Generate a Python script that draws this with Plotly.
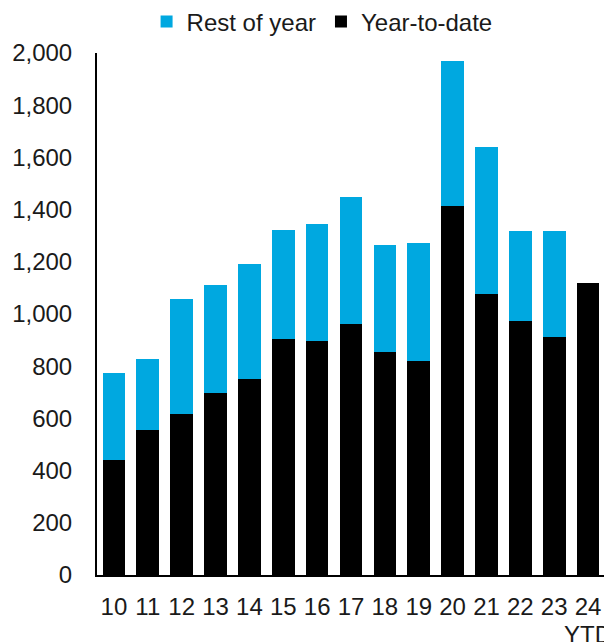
import plotly.graph_objects as go

years = ["10", "11", "12", "13", "14", "15", "16", "17", "18", "19", "20", "21", "22", "23", "24"]
tick_labels = ["10", "11", "12", "13", "14", "15", "16", "17", "18", "19", "20", "21", "22", "23", "24"]
ytd_note = "YTD"
year_to_date = [442, 555, 618, 698, 752, 905, 898, 963, 853, 821, 1415, 1075, 974, 913, 1120]
rest_of_year = [333, 271, 438, 414, 438, 417, 447, 484, 413, 450, 553, 564, 343, 405, 0]
y_ticks = [0, 200, 400, 600, 800, 1000, 1200, 1400, 1600, 1800, 2000]

fig = go.Figure()
fig.add_trace(go.Bar(x=years, y=year_to_date, name="Year-to-date",
                     marker=dict(color="#000000", line=dict(width=0))))
fig.add_trace(go.Bar(x=years, y=rest_of_year, name="Rest of year",
                     marker=dict(color="#00A8E0", line=dict(width=0))))

fig.add_annotation(x=len(years) - 1, xref="x", y=-0.114, yref="paper",
                   text=ytd_note, showarrow=False, xanchor="center", yanchor="middle",
                   font=dict(size=24, color="#1a1a1a"))

fig.update_layout(
    width=604, height=634,
    barmode="stack", bargap=0.33,
    plot_bgcolor="white", paper_bgcolor="white",
    margin=dict(l=89, r=7, t=45, b=67, autoexpand=False),
    font=dict(family="Liberation Sans, Arial, sans-serif", size=24, color="#1a1a1a"),
    showlegend=True,
    legend=dict(orientation="h", traceorder="reversed",
                x=0.52, xanchor="center", xref="container",
                y=0.978, yanchor="middle", yref="container",
                font=dict(size=24), itemwidth=30, bgcolor="rgba(0,0,0,0)"),
    xaxis=dict(type="category", range=[-0.5, len(years) - 0.5],
               tickmode="array", tickvals=years, ticktext=tick_labels,
               showline=True, linecolor="#000000", linewidth=2, showgrid=False,
               ticks="", ticklabelstandoff=9, tickangle=0, automargin=False),
    yaxis=dict(range=[0, 2000], tickvals=y_ticks, tickformat=",",
               showline=True, linecolor="#000000", linewidth=2, showgrid=False,
               zeroline=False, ticks="", ticklabelstandoff=18, automargin=False),
)

fig.write_html("out.html")
